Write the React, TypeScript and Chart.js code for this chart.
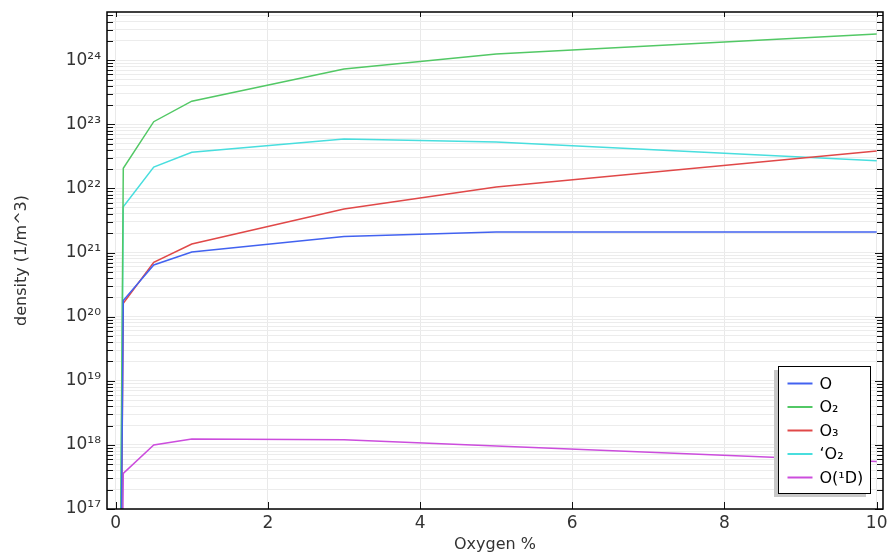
import React, { useEffect, useRef } from "react";
import { Chart, registerables } from "chart.js";

Chart.register(...registerables);

// Oxygen admixture (%) at which each species density was evaluated
const oxygenPercent = [0, 0.1, 0.5, 1, 3, 5, 10];

// Species densities (1/m^3)
const densityO = [1e6, 1.78e20, 6.4e20, 1.02e21, 1.78e21, 2.1e21, 2.1e21];
const densityO2 = [1e6, 2.07e22, 1.1e23, 2.3e23, 7.3e23, 1.25e24, 2.57e24];
const densityO3 = [1e6, 1.62e20, 7.06e20, 1.36e21, 4.8e21, 1.05e22, 3.85e22];
const densitySingletO2 = [1e6, 5.2e21, 2.16e22, 3.67e22, 5.9e22, 5.3e22, 2.7e22];
const densityO1D = [1e6, 3.6e17, 1.0e18, 1.24e18, 1.2e18, 9.6e17, 5.5e17];

const seriesLabels = ["O", "O\u2082", "O\u2083", "\u2018O\u2082", "O(\u00B9D)"];
const seriesColors = ["#4262f0", "#52c865", "#e04848", "#48dede", "#cc4ddd"];

const xTickValues = [0, 2, 4, 6, 8, 10];
const yDecades = [17, 18, 19, 20, 21, 22, 23, 24];
const Y_MIN = 1e17;
const Y_MAX = 5.66e24;

const FONT = "'DejaVu Sans', sans-serif";
const SUP = "\u2070\u00B9\u00B2\u00B3\u2074\u2075\u2076\u2077\u2078\u2079";

const toSup = (n: number) =>
  String(n)
    .split("")
    .map((d) => SUP[Number(d)])
    .join("");

const isDecade = (v: number) => {
  const e = Math.log10(v);
  return Math.abs(e - Math.round(e)) < 1e-9;
};

// Log-axis ticks: every 1..9 x 10^n inside the range, labels only on the decades
const yTickValues: number[] = [];
yDecades.forEach((d) => {
  for (let m = 1; m <= 9; m++) {
    const v = m * Math.pow(10, d);
    if (v >= Y_MIN && v <= Y_MAX) yTickValues.push(v);
  }
});

const framePlugin = {
  id: "frameTicks",
  afterDatasetsDraw(chart: any) {
    const { ctx, chartArea, scales } = chart;
    const { left, right, top, bottom } = chartArea;
    ctx.save();
    ctx.strokeStyle = "#111";
    ctx.lineWidth = 1;
    const seg = (x1: number, y1: number, x2: number, y2: number) => {
      ctx.beginPath();
      ctx.moveTo(x1, y1);
      ctx.lineTo(x2, y2);
      ctx.stroke();
    };
    scales.y.ticks.forEach((t: any) => {
      const y = Math.round(scales.y.getPixelForValue(t.value)) + 0.5;
      if (y < top || y > bottom + 1) return;
      const len = isDecade(t.value) ? 8 : 6;
      seg(left, y, left + len, y);
      seg(right, y, right - len, y);
    });
    scales.x.ticks.forEach((t: any) => {
      const x = Math.round(scales.x.getPixelForValue(t.value)) + 0.5;
      seg(x, bottom, x, bottom - 7);
      seg(x, top, x, top + 5);
    });
    ctx.lineWidth = 1.5;
    ctx.strokeStyle = "#000";
    ctx.strokeRect(left, top, right - left, bottom - top);
    ctx.restore();
  },
};

const legendPlugin = {
  id: "boxedLegend",
  afterDraw(chart: any) {
    const { ctx, chartArea } = chart;
    const w = 92;
    const h = 127;
    const x = Math.round(chartArea.right - 13 - w) + 0.5;
    const y = Math.round(chartArea.bottom - 16 - h) + 0.5;
    ctx.save();
    ctx.fillStyle = "#c8c8c8";
    ctx.fillRect(x - 4.5, y + 3.5, w, h);
    ctx.fillStyle = "#ffffff";
    ctx.fillRect(x, y, w, h);
    ctx.strokeStyle = "#000";
    ctx.lineWidth = 1;
    ctx.strokeRect(x, y, w, h);
    ctx.font = `16px ${FONT}`;
    ctx.textBaseline = "middle";
    ctx.textAlign = "left";
    chart.data.datasets.forEach((ds: any, i: number) => {
      const cy = y + 17 + i * 23.5;
      ctx.strokeStyle = ds.borderColor;
      ctx.lineWidth = 2;
      ctx.beginPath();
      ctx.moveTo(x + 9, cy);
      ctx.lineTo(x + 34, cy);
      ctx.stroke();
      ctx.fillStyle = "#000";
      ctx.fillText(ds.label, x + 41, cy + 1);
    });
    ctx.restore();
  },
};

export default function App() {
  const canvasRef = useRef<HTMLCanvasElement | null>(null);

  useEffect(() => {
    document.body.style.margin = "0";
    const canvas = canvasRef.current;
    if (!canvas) return;

    const series = [densityO, densityO2, densityO3, densitySingletO2, densityO1D];
    const datasets = series.map((values, i) => ({
      label: seriesLabels[i],
      data: values.map((v, k) => ({ x: oxygenPercent[k], y: v })),
      borderColor: seriesColors[i],
      backgroundColor: seriesColors[i],
      borderWidth: 1.5,
      pointRadius: 0,
      tension: 0,
      fill: false,
    }));

    const chart = new Chart(canvas, {
      type: "line",
      data: { datasets },
      options: {
        responsive: false,
        animation: false,
        devicePixelRatio: 1,
        layout: { padding: { left: 0, right: 5, top: 12, bottom: 0 } },
        plugins: {
          legend: { display: false },
          tooltip: { enabled: false },
        },
        scales: {
          x: {
            type: "linear",
            min: -0.114,
            max: 10.083,
            afterBuildTicks: (scale: any) => {
              scale.ticks = xTickValues.map((v) => ({ value: v }));
            },
            afterFit: (scale: any) => {
              scale.height = 46;
              scale.paddingLeft = 0;
              scale.paddingRight = 0;
            },
            ticks: {
              autoSkip: false,
              maxRotation: 0,
              padding: 4,
              color: "#333",
              font: { family: FONT, size: 17 },
              callback: (v: any) => String(v),
            },
            grid: { color: "#e9e9e9", lineWidth: 1, drawTicks: false },
            border: { display: false },
            title: {
              display: true,
              text: "Oxygen %",
              color: "#333",
              font: { family: FONT, size: 16 },
              padding: { top: 0, bottom: 1 },
            },
          },
          y: {
            type: "logarithmic",
            min: Y_MIN,
            max: Y_MAX,
            afterBuildTicks: (scale: any) => {
              scale.ticks = yTickValues.map((v) => ({ value: v }));
            },
            afterFit: (scale: any) => {
              scale.width = 107;
              scale.paddingTop = 0;
              scale.paddingBottom = 0;
            },
            ticks: {
              autoSkip: false,
              padding: 6,
              color: "#333",
              font: { family: FONT, size: 17 },
              callback: (v: any) => {
                const n = Number(v);
                return isDecade(n) ? "10" + toSup(Math.round(Math.log10(n))) : "";
              },
            },
            grid: { color: "#ececec", lineWidth: 1, drawTicks: false },
            border: { display: false },
            title: {
              display: true,
              text: "density (1/m^3)",
              color: "#333",
              font: { family: FONT, size: 16 },
              padding: { top: 12, bottom: 0 },
            },
          },
        },
      },
      plugins: [framePlugin, legendPlugin],
    } as any);

    return () => chart.destroy();
  }, []);

  return (
    <div style={{ position: "absolute", left: 0, top: 0, width: 888, height: 555 }}>
      <canvas ref={canvasRef} width={888} height={555} style={{ width: 888, height: 555 }} />
    </div>
  );
}
